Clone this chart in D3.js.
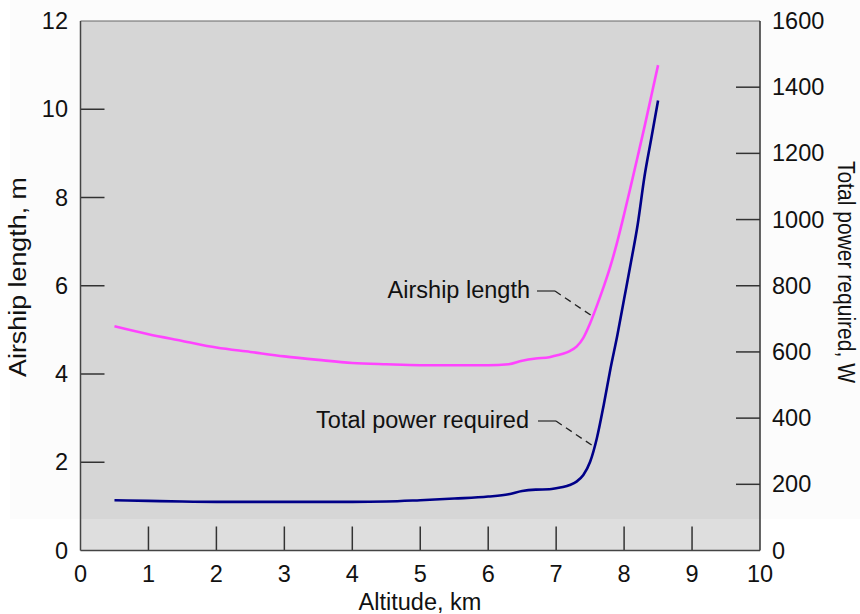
<!DOCTYPE html>
<html><head><meta charset="utf-8">
<script src="https://cdn.jsdelivr.net/npm/d3@7"></script>
<style>body{margin:0;background:#fff}text{font-family:"Liberation Sans",Arial,sans-serif;fill:#111}</style>
</head><body><svg id="c" width="860" height="614"></svg>
<script>
const altitudes = [0.5,1,1.5,2,2.5,3,3.5,4,4.5,5,5.5,6,6.3,6.5,6.7,6.9,7.0,7.1,7.2,7.3,7.4,7.5,7.6,7.7,7.8,7.9,8.0,8.1,8.2,8.3,8.4,8.5];
const airshipLength = [5.08,4.9,4.75,4.6,4.5,4.4,4.32,4.25,4.22,4.2,4.2,4.2,4.22,4.3,4.35,4.38,4.42,4.46,4.52,4.62,4.82,5.15,5.55,5.98,6.45,7.0,7.62,8.27,8.93,9.6,10.3,11.0];
const totalPower = [152,150,148,147,147,147,147,147,148,152,157,163,170,180,184,185,188,192,198,208,228,268,340,440,550,650,760,870,985,1130,1245,1360];
const xTicks = [0,1,2,3,4,5,6,7,8,9,10];
const yLeftTicks = [0,2,4,6,8,10,12];
const yRightTicks = [0,200,400,600,800,1000,1200,1400,1600];

const svg = d3.select("#c");
const L=80.5, R=760, T=21, B=550.5;
const x = d3.scaleLinear().domain([0,10]).range([L,R]);
const yL = d3.scaleLinear().domain([0,12]).range([B,T]);
const yR = d3.scaleLinear().domain([0,1600]).range([B,T]);

svg.append("rect").attr("x",10).attr("y",0).attr("width",850).attr("height",519).attr("fill","#fcfcfc");
svg.append("rect").attr("x",L).attr("y",T).attr("width",R-L).attr("height",B-T).attr("fill","#dedede");
svg.append("rect").attr("x",L).attr("y",T).attr("width",R-L).attr("height",519-T).attr("fill","#d6d6d6");

const tickLen=24, tc="#333";
const g = svg.append("g");
xTicks.filter(d=>d>0&&d<10).forEach(d=>{
  g.append("line").attr("x1",x(d)).attr("x2",x(d)).attr("y1",B).attr("y2",B-tickLen).attr("stroke",tc).attr("stroke-width",1.5);
});
yLeftTicks.filter(d=>d>0&&d<12).forEach(d=>{
  g.append("line").attr("x1",L).attr("x2",L+tickLen).attr("y1",yL(d)).attr("y2",yL(d)).attr("stroke",tc).attr("stroke-width",1.5);
});
yRightTicks.filter(d=>d>0&&d<1600).forEach(d=>{
  g.append("line").attr("x1",R).attr("x2",R-tickLen).attr("y1",yR(d)).attr("y2",yR(d)).attr("stroke",tc).attr("stroke-width",1.5);
});
svg.append("line").attr("x1",L).attr("x2",R).attr("y1",T).attr("y2",T).attr("stroke","#666").attr("stroke-width",1.2);
svg.append("line").attr("x1",R).attr("x2",R).attr("y1",T).attr("y2",B).attr("stroke","#333").attr("stroke-width",1.5);
svg.append("line").attr("x1",L).attr("x2",L).attr("y1",T).attr("y2",B).attr("stroke","#444").attr("stroke-width",1.5);
svg.append("line").attr("x1",L).attr("x2",R).attr("y1",B).attr("y2",B).attr("stroke","#444").attr("stroke-width",1.5);

const fs = "23.5px";
xTicks.forEach(d=>svg.append("text").attr("x",x(d)).attr("y",582).attr("text-anchor","middle").style("font-size",fs).text(d));
yLeftTicks.forEach(d=>svg.append("text").attr("x",68).attr("y",yL(d)+8).attr("text-anchor","end").style("font-size",fs).text(d));
yRightTicks.forEach(d=>svg.append("text").attr("x",772).attr("y",yR(d)+8).attr("text-anchor","start").style("font-size",fs).text(d));

svg.append("text").attr("x",420).attr("y",610).attr("text-anchor","middle").style("font-size",fs).text("Altitude, km");
svg.append("text").attr("transform","translate(26,277) rotate(-90)").attr("text-anchor","middle").style("font-size",fs)
  .attr("textLength",200).attr("lengthAdjust","spacingAndGlyphs").text("Airship length, m");
svg.append("text").attr("transform","translate(838,272) rotate(90)").attr("text-anchor","middle").style("font-size",fs)
  .attr("textLength",222).attr("lengthAdjust","spacingAndGlyphs").text("Total power required, W");

const pts = altitudes.map((a,i)=>({a, len: airshipLength[i], pw: totalPower[i]}));
svg.append("path").datum(pts).attr("fill","none").attr("stroke","#ff44ff").attr("stroke-width",2.6)
  .attr("d", d3.line().x(d=>x(d.a)).y(d=>yL(d.len)).curve(d3.curveMonotoneX));
svg.append("path").datum(pts).attr("fill","none").attr("stroke","#000088").attr("stroke-width",2.6)
  .attr("d", d3.line().x(d=>x(d.a)).y(d=>yR(d.pw)).curve(d3.curveMonotoneX));

function ann(label, tx, ty, hx1, hx2, hy, ex, ey){
  svg.append("text").attr("x",tx).attr("y",ty).attr("text-anchor","end").style("font-size",fs).text(label);
  svg.append("line").attr("x1",hx1).attr("x2",hx2).attr("y1",hy).attr("y2",hy).attr("stroke","#333").attr("stroke-width",1.3);
  svg.append("line").attr("x1",hx2).attr("x2",ex).attr("y1",hy).attr("y2",ey).attr("stroke","#222").attr("stroke-width",1.3).attr("stroke-dasharray","7,5");
}
ann("Airship length", 530, 298, 537, 555, 291, 592, 316);
ann("Total power required", 529, 428, 538, 556, 421, 593, 446);
</script></body></html>
